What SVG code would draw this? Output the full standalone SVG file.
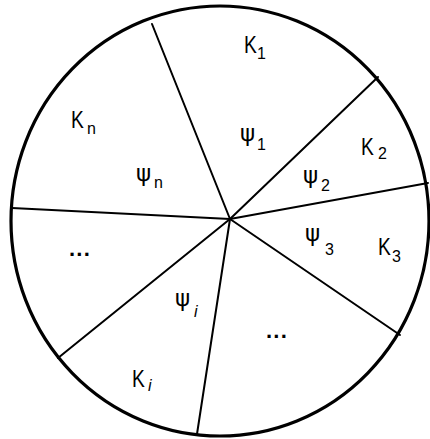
<svg xmlns="http://www.w3.org/2000/svg" width="430" height="439" viewBox="0 0 430 439">
<style>
.rim{fill:none;stroke:#000;stroke-width:3.2}
.sp{stroke:#000;stroke-width:2;fill:none;stroke-linecap:round}
.k{font-family:"Liberation Sans",Arial,sans-serif;font-size:24px;fill:#000}
.p{font-family:"DejaVu Sans","Liberation Sans",sans-serif;font-size:23px;fill:#000}
.s{font-family:"Liberation Sans",Arial,sans-serif;font-size:16px;fill:#000}
.si{font-family:"Liberation Sans",Arial,sans-serif;font-size:16px;font-style:italic;fill:#000}
.d{font-family:"Liberation Sans",Arial,sans-serif;font-size:22px;font-weight:bold;fill:#000}
</style>
<rect width="430" height="439" fill="#fff"/>
<g id="outline"><ellipse class="rim" cx="220" cy="221" rx="209" ry="215"/></g>
<g id="spokes">
<line class="sp" x1="230" y1="219" x2="152" y2="24"/>
<line class="sp" x1="230" y1="219" x2="378" y2="77"/>
<line class="sp" x1="230" y1="219" x2="428" y2="183"/>
<line class="sp" x1="230" y1="219" x2="12" y2="208"/>
<line class="sp" x1="230" y1="219" x2="400" y2="335"/>
<line class="sp" x1="230" y1="219" x2="197" y2="434"/>
<line class="sp" x1="230" y1="219" x2="58" y2="358"/>
</g>
<g id="sector1"><text class="k" x="244" y="53" transform="translate(244 0) scale(0.8 1) translate(-244 0)">K</text><text class="s" x="257" y="59">1</text>
<text class="p" x="240" y="141">ψ</text><text class="s" x="257" y="150">1</text></g>
<g id="sector2"><text class="k" x="361" y="155" transform="translate(361 0) scale(0.8 1) translate(-361 0)">K</text><text class="s" x="378" y="159">2</text>
<text class="p" x="303" y="183">ψ</text><text class="s" x="321" y="191">2</text></g>
<g id="sector3"><text class="k" x="378" y="255" transform="translate(378 0) scale(0.8 1) translate(-378 0)">K</text><text class="s" x="392" y="262">3</text>
<text class="p" x="305" y="241">ψ</text><text class="s" x="325" y="255">3</text></g>
<g id="sectorR"><text class="d" x="266" y="344">···</text></g>
<g id="sectori"><text class="k" x="132" y="387" transform="translate(132 0) scale(0.8 1) translate(-132 0)">K</text><text class="si" x="148" y="391">i</text>
<text class="p" x="175" y="306">ψ</text><text class="si" x="194" y="317">i</text></g>
<g id="sectorL"><text class="d" x="69" y="262">···</text></g>
<g id="sectorn"><text class="k" x="71" y="128" transform="translate(71 0) scale(0.8 1) translate(-71 0)">K</text><text class="s" x="87" y="134">n</text>
<text class="p" x="136" y="181">ψ</text><text class="s" x="154" y="188">n</text></g>
</svg>
